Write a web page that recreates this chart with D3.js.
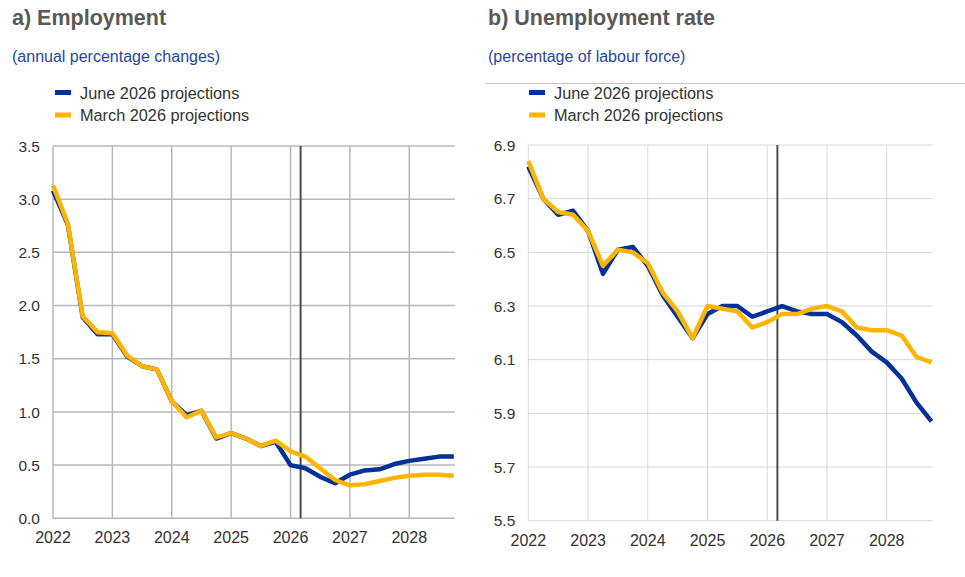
<!DOCTYPE html>
<html lang="en">
<head>
  <title>Employment and unemployment projections</title>
  <script src="https://cdnjs.cloudflare.com/ajax/libs/d3/7.8.5/d3.min.js"></script>
  <style type="text/css">
    body { margin: 0; background: #fff; }
    svg { font-family: "Liberation Sans", Arial, sans-serif; }
  </style>
</head>
<body>
<div id="chart"></div>
<script>

// quarterly observations, 2022 Q1 .. 2028 Q4
var quarters = d3.range(28).map(function(i) { return 2022 + i / 4; });
var yearTicks = [2022, 2023, 2024, 2025, 2026, 2027, 2028];
var seriesNames = ["June 2026 projections", "March 2026 projections"];
var cutoff = 2026.17;

// a) Employment (annual percentage changes)
var empJune  = [3.08, 2.76, 1.89, 1.73, 1.73, 1.52, 1.43, 1.40, 1.10, 0.97, 1.01, 0.75, 0.80, 0.75, 0.68, 0.72,
                0.50, 0.47, 0.39, 0.33, 0.41, 0.45, 0.46, 0.51, 0.54, 0.56, 0.58, 0.58];
var empMarch = [3.13, 2.77, 1.90, 1.75, 1.74, 1.53, 1.43, 1.40, 1.10, 0.95, 1.01, 0.76, 0.80, 0.75, 0.68, 0.73,
                0.63, 0.58, 0.47, 0.36, 0.31, 0.32, 0.35, 0.38, 0.40, 0.41, 0.41, 0.40];
var empTicks = [0, 0.5, 1, 1.5, 2, 2.5, 3, 3.5];

// b) Unemployment rate (percentage of labour force)
var unJune  = [6.82, 6.70, 6.64, 6.655, 6.58, 6.42, 6.51, 6.52, 6.45, 6.34, 6.26, 6.18, 6.27, 6.30, 6.30, 6.26,
               6.28, 6.30, 6.28, 6.27, 6.27, 6.24, 6.19, 6.13, 6.09, 6.03, 5.94, 5.87];
var unMarch = [6.84, 6.70, 6.65, 6.64, 6.58, 6.45, 6.51, 6.50, 6.46, 6.35, 6.28, 6.18, 6.30, 6.29, 6.28, 6.22,
               6.24, 6.27, 6.27, 6.29, 6.30, 6.28, 6.22, 6.21, 6.21, 6.19, 6.11, 6.09];
var unTicks = [5.5, 5.7, 5.9, 6.1, 6.3, 6.5, 6.7, 6.9];

var colors = ["#003299", "#ffb400"];

var svg = d3.select("#chart").append("svg")
    .attr("width", 965)
    .attr("height", 577);

function drawPanel(opt) {
  var g = svg.append("g");

  var x = d3.scaleLinear().domain([2022, 2028.77]).range([opt.left, opt.right]);
  var y = d3.scaleLinear().domain([opt.ticks[0], opt.ticks[opt.ticks.length - 1]]).range([opt.bottom, opt.top]);

  // titles
  g.append("text")
    .attr("x", opt.textX).attr("y", 25)
    .style("font-size", "21.5px").style("font-weight", "bold")
    .attr("fill", "#595959")
    .text(opt.title);
  g.append("text")
    .attr("x", opt.textX).attr("y", 62)
    .style("font-size", "16px")
    .attr("fill", "#2447a8")
    .text(opt.subtitle);

  if (opt.rule) {
    g.append("line")
      .attr("x1", opt.textX - 2).attr("x2", 965)
      .attr("y1", 83.5).attr("y2", 83.5)
      .attr("stroke", "#c4c4c4").attr("stroke-width", 1);
  }

  // legend
  seriesNames.forEach(function(name, i) {
    g.append("rect")
      .attr("x", opt.legendX).attr("y", 90 + i * 22.5)
      .attr("width", 16).attr("height", 5)
      .attr("fill", colors[i]);
    g.append("text")
      .attr("x", opt.legendX + 25).attr("y", 99 + i * 22)
      .style("font-size", "16.3px")
      .attr("fill", "#333")
      .text(name);
  });

  // grid
  g.selectAll(".hgrid").data(opt.ticks).enter().append("line")
    .attr("x1", opt.left).attr("x2", opt.right)
    .attr("y1", function(d) { return y(d); }).attr("y2", function(d) { return y(d); })
    .attr("stroke", opt.gridColor).attr("stroke-width", opt.gridWidth);
  g.selectAll(".vgrid").data(yearTicks).enter().append("line")
    .attr("x1", function(d) { return x(d); }).attr("x2", function(d) { return x(d); })
    .attr("y1", opt.top).attr("y2", opt.bottom)
    .attr("stroke", opt.gridColor).attr("stroke-width", opt.gridWidth);

  // tick labels
  g.selectAll(".ylab").data(opt.ticks).enter().append("text")
    .attr("x", opt.left - 13)
    .attr("y", function(d) { return y(d); })
    .attr("dy", "0.36em")
    .attr("text-anchor", "end")
    .style("font-size", "15.5px")
    .attr("fill", "#333")
    .text(function(d) { return d3.format(".1f")(d); });
  g.selectAll(".xlab").data(yearTicks).enter().append("text")
    .attr("x", function(d) { return x(d); })
    .attr("y", opt.bottom + 25)
    .attr("text-anchor", "middle")
    .style("font-size", "16px")
    .attr("fill", "#333")
    .text(function(d) { return d; });

  // projection cut-off marker
  g.append("line")
    .attr("x1", x(cutoff)).attr("x2", x(cutoff))
    .attr("y1", opt.top).attr("y2", opt.bottom)
    .attr("stroke", "#4d4d4d").attr("stroke-width", 2);

  var line = d3.line()
    .x(function(d, i) { return x(quarters[i]); })
    .y(function(d) { return y(d); });

  [opt.june, opt.march].forEach(function(values, i) {
    g.append("path")
      .attr("d", line(values))
      .attr("fill", "none")
      .attr("stroke", colors[i])
      .attr("stroke-width", 4.5)
      .attr("stroke-linejoin", "round");
  });
}

drawPanel({
  title: "a) Employment", subtitle: "(annual percentage changes)",
  textX: 12, legendX: 55,
  left: 53, right: 455, top: 146, bottom: 518.3,
  ticks: empTicks, june: empJune, march: empMarch,
  gridColor: "#b8b8b8", gridWidth: 1.5, rule: false
});

drawPanel({
  title: "b) Unemployment rate", subtitle: "(percentage of labour force)",
  textX: 488, legendX: 529,
  left: 528.3, right: 932.7, top: 145, bottom: 520.7,
  ticks: unTicks, june: unJune, march: unMarch,
  gridColor: "#d9d9d9", gridWidth: 1, rule: true
});

</script>
</body>
</html>
